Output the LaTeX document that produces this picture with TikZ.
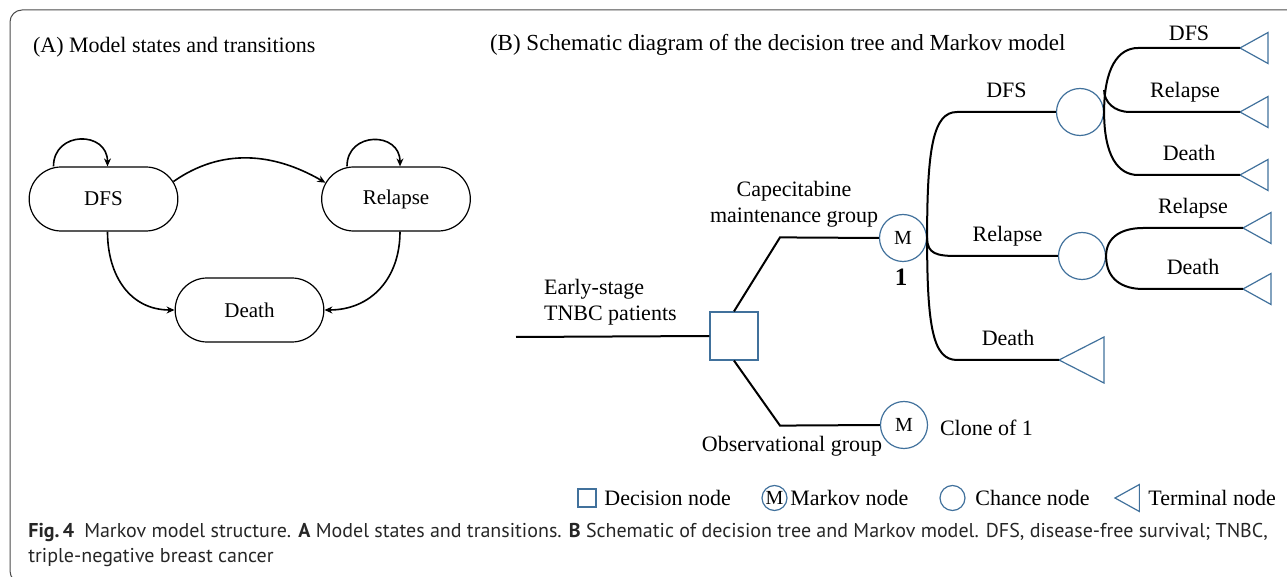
\documentclass[tikz,border=0pt]{standalone}
\usepackage{fontspec}
\setmainfont{Liberation Serif}
\newfontfamily\capfont{PT Sans}
\usetikzlibrary{arrows.meta,positioning,calc,shapes.misc}
\definecolor{nodeblue}{RGB}{65,113,156}

\begin{document}
\begin{tikzpicture}[x=0.5pt,y=-0.5pt,
    state/.style={draw, rounded rectangle, minimum width=81pt, minimum height=32pt, line width=0.6pt, font=\fontsize{10.5}{12}\selectfont},
    trans/.style={line width=0.8pt, -{Stealth[length=4pt,width=3.5pt]}},
    branch/.style={line width=1pt},
    lbl/.style={font=\fontsize{11}{13}\selectfont},
    brlbl/.style={lbl, midway, above=3.5pt, text depth=0pt},
    decision/.style={draw=nodeblue, line width=0.6pt, minimum size=24pt, inner sep=0pt},
    chance/.style={draw=nodeblue, line width=0.6pt, circle, minimum size=23.5pt, inner sep=0pt, font=\fontsize{10}{12}\selectfont},
    terminal/.pic={\draw[nodeblue, line width=0.6pt] (0,0) -- (28,-15.5) -- (28,15.5) -- cycle;},
    bigterminal/.pic={\draw[nodeblue, line width=0.6pt] (0,0) -- (45,-23) -- (45,23) -- cycle;}]
    \useasboundingbox (0,0) rectangle (1287,577);

    % the frame
    \draw[black!70, line width=0.5pt, rounded corners=6pt] (1300,10) -- (10,10) -- (10,583) -- (60,583);

    % (A) states and transitions
    \node[lbl, anchor=west] (titleA) at (26,47) {(A) Model states and transitions};
    \node[state] (dfs) at (103.5,199) {DFS};
    \node[state] (relapse) at (396,199) {Relapse};
    \node[state] (death) at (249.5,310) {Death};

    \draw[trans] ($(dfs.north)+(-50,0)$) to[out=90,in=90,looseness=1.7] ($(dfs.north)+(4,0)$);
    \draw[trans] ($(relapse.north)+(-49,0)$) to[out=90,in=90,looseness=1.7] ($(relapse.north)+(4,0)$);
    \draw[trans] (dfs.14) to[out=35,in=150] (relapse.167);
    \draw[trans] ($(dfs.south)+(4,0)$) to[out=-90,in=180,looseness=1.1] (death.west);
    \draw[trans] ($(relapse.south)+(4,0)$) to[out=-90,in=0,looseness=1.1] (death.east);

    % (B) decision tree
    \node[anchor=west, font=\fontsize{11.5}{13}\selectfont] (titleB) at (483,45) {(B) Schematic diagram of the decision tree and Markov model};
    \coordinate (root) at (516,337);
    \node[decision] (dec) at (734,336) {};
    \node[chance] (m1) at (903,238) {M};
    \node[chance] (m2) at (904,425) {M};
    \node[chance] (c1) at (1080,112) {};
    \node[chance] (c2) at (1082,256) {};

    % terminal nodes
    \coordinate (t1) at (1240,48);
    \coordinate (t2) at (1240,112);
    \coordinate (t3) at (1240,175);
    \coordinate (t4) at (1243,228);
    \coordinate (t5) at (1243,289);
    \coordinate (t6) at (1059,360);
    \foreach \t in {t1,t2,t3,t4,t5}
        \pic at (\t) {terminal};
    \pic at (t6) {bigterminal};

    \draw[branch] (root) -- (dec.west);
    \node[lbl, align=left, anchor=west] (patients) at (537,302) {Early-stage\\TNBC patients};
    \draw[branch] (dec.north) -- ++(46,-74) -- (m1.west);
    \draw[branch] (dec.south) -- ++(46,65) -- (m2.west);
    \node[lbl, align=center] (capgroup) at (794,204) {Capecitabine\\maintenance group};
    \node[lbl] (obsgroup) at (792,446) {Observational group};
    \node[font=\fontsize{12.5}{14}\selectfont\bfseries] (one) at (901,277) {1};
    \node[lbl, anchor=west] (clone) at (933,428) {Clone of 1};

    % Markov branches
    \draw[branch] (m1.east) to[out=90,in=180,out distance=45pt,in distance=12pt] ++(30,-126) -- (c1.west) node[brlbl] (mDFS) {DFS};
    \draw[branch] (m1.east) to[out=-90,in=180,out distance=8pt,in distance=10pt] ++(30,18) -- (c2.west) node[brlbl] (mRel) {Relapse};
    \draw[branch] (m1.east) to[out=-90,in=180,out distance=45pt,in distance=12pt] ++(30,122) -- (t6) node[brlbl] (mDeath) {Death};

    % chance branches
    \draw[branch] (c1.east) to[out=90,in=180,out distance=22pt,in distance=10pt] ++(34,-64) -- (t1) node[lbl, midway, above=0pt, text depth=0pt] (cDFS) {DFS};
    \draw[branch] ($(c1.east)+(0,-22)$) to[out=-90,in=180,out distance=6pt,in distance=8pt] ++(26,22) -- (t2) node[brlbl] (cRel) {Relapse};
    \draw[branch] (c1.east) to[out=-90,in=180,out distance=22pt,in distance=10pt] ++(34,63) -- (t3) node[brlbl] (cDeath) {Death};
    \draw[branch] (c2.east) to[out=90,in=180,out distance=10pt,in distance=10pt] ++(37,-28) -- (t4) node[brlbl] (dRel) {Relapse};
    \draw[branch] (c2.east) to[out=-90,in=180,out distance=12pt,in distance=10pt] ++(37,33) -- (t5) node[brlbl] (dDeath) {Death};

    % legend
    \node[decision, minimum size=9pt] (legdec) at (587,498) {};
    \node[lbl, anchor=west, inner sep=0pt] (legdectext) at (604,498) {Decision node};
    \node[chance, minimum size=12.5pt, font=\fontsize{10}{10}\selectfont] (legmarkov) at (774.5,498) {M};
    \node[lbl, anchor=west, inner sep=0pt] (legmarkovtext) at (790,498) {Markov node};
    \node[chance, minimum size=12.5pt] (legchance) at (952.5,498) {};
    \node[lbl, anchor=west, inner sep=0pt] (legchancetext) at (975,498) {Chance node};
    \coordinate (legterm) at (1115,498);
    \pic[scale=0.87] at (legterm) {terminal};
    \node[lbl, anchor=west, inner sep=0pt] (legtermtext) at (1148,498) {Terminal node};

    % caption
    \node[anchor=base west, inner sep=0pt, font=\capfont\fontsize{10}{12}\selectfont, text=black!85] (caption1) at (28,538)
        {\textbf{Fig.\,4}\enspace Markov model structure. \textbf{A} Model states and transitions. \textbf{B} Schematic of decision tree and Markov model. DFS, disease-free survival; TNBC,};
    \node[anchor=base west, inner sep=0pt, font=\capfont\fontsize{10}{12}\selectfont, text=black!85] (caption2) at (28,563)
        {triple-negative breast cancer};
\end{tikzpicture}
\end{document}
